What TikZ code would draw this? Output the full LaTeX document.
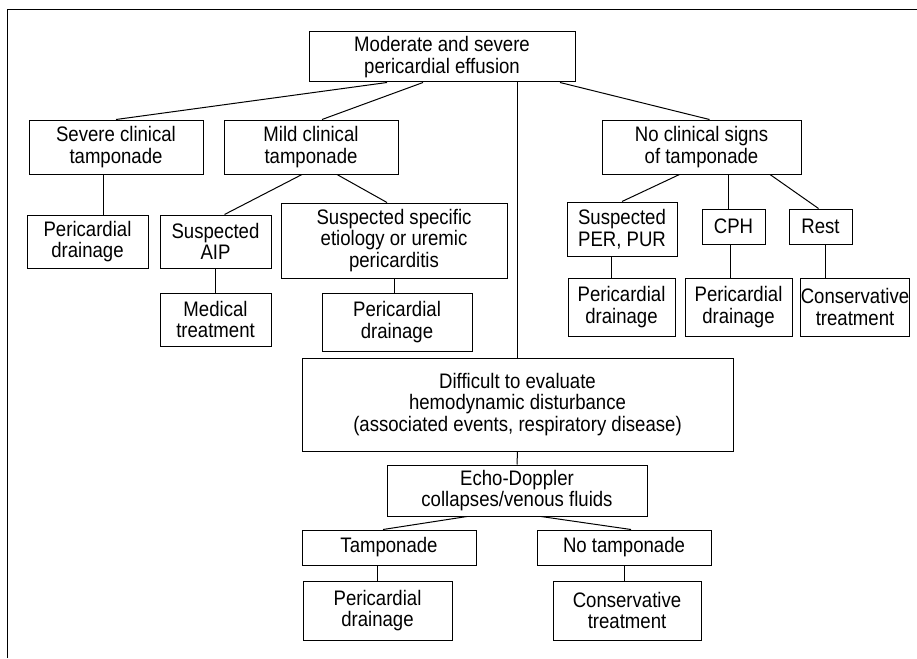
\documentclass[tikz,border=0pt]{standalone}
\usepackage{fontspec}
\setmainfont{Liberation Sans}[FakeStretch=0.885]
\usepackage{tikz}
\usetikzlibrary{calc}
\tikzset{
  box/.style={draw, line width=1pt, inner sep=0pt, align=center,
    font=\fontsize{21}{21.5}\selectfont},
  wh/.style 2 args={minimum width=#1pt, minimum height=#2pt},
  link/.style={line width=1pt}
}

\begin{document}
\begin{tikzpicture}[x=1pt, y=-1pt]
        \useasboundingbox (0,0) rectangle (917,658);
        % frame
        \draw[line width=0.9pt] (7,658) -- (7,9.5) -- (917,9.5);
        % level 1
        \node[box, wh={266}{50}] (effusion) at (442,57) {Moderate and severe\\pericardial effusion};
        % level 2
        \node[box, wh={174}{54}] (severe) at (116,147) {Severe clinical\\tamponade};
        \node[box, wh={174}{54}] (mild) at (311,147) {Mild clinical\\tamponade};
        \node[box, wh={199}{54}] (nosigns) at (701.5,147) {No clinical signs\\of tamponade};
        % level 3
        \node[box, wh={121}{53}] (drainA) at (87.5,241.5) {Pericardial\\drainage};
        \node[box, wh={111}{53}] (aip) at (215.5,241.5) {Suspected\\AIP};
        \node[box, wh={226}{75}] (specific) at (394,240.5) {Suspected specific\\etiology or uremic\\pericarditis};
        \node[box, wh={110}{54}] (perpur) at (622,229) {Suspected\\PER, PUR};
        \node[box, wh={63}{35}] (cph) at (733.5,226.5) {CPH};
        \node[box, wh={63}{35}] (rest) at (820.5,226.5) {Rest};
        % level 4
        \node[box, wh={111}{53}] (medical) at (215.5,319.5) {Medical\\treatment};
        \node[box, wh={150}{58}] (drainB) at (397,322) {Pericardial\\drainage};
        \node[box, wh={107}{58}] (drainC) at (621.5,307) {Pericardial\\drainage};
        \node[box, wh={107}{58}] (drainD) at (738.5,307) {Pericardial\\drainage};
        \node[box, wh={108}{58}] (conservA) at (855,307) {Conservative\\treatment};
        % middle branch
        \node[box, wh={431}{93}] (difficult) at (517.5,404.5) {Difficult to evaluate\\hemodynamic disturbance\\(associated events, respiratory disease)};
        \node[box, wh={260}{51}] (echo) at (517,490.5) {Echo-Doppler\\collapses/venous fluids};
        \node[box, wh={174}{35}] (tamp) at (389,547.5) {Tamponade};
        \node[box, wh={174}{35}] (notamp) at (624,547.5) {No tamponade};
        \node[box, wh={149}{59}] (drainE) at (377.5,610.5) {Pericardial\\drainage};
        \node[box, wh={148}{59}] (conservB) at (627,610.5) {Conservative\\treatment};
        % connectors
        \draw[link] ([xshift=-55pt]effusion.south) -- (severe.north);
        \draw[link] ([xshift=-19pt]effusion.south) -- ([xshift=11pt]mild.north);
        \draw[link] (difficult.north |- effusion.south) -- (difficult.north);
        \draw[link] ([xshift=118pt]effusion.south) -- ([xshift=8pt]nosigns.north);
        \draw[link] ([xshift=-13pt]severe.south) -- ([xshift=-13pt]severe.south |- drainA.north);
        \draw[link] ([xshift=-9pt]mild.south) -- ([xshift=9pt]aip.north);
        \draw[link] ([xshift=26pt]mild.south) -- ([xshift=-7pt]specific.north);
        \draw[link] (aip.south) -- (medical.north);
        \draw[link] (specific.south) -- (specific.south |- drainB.north);
        \draw[link] ([xshift=-22pt]nosigns.south) -- (perpur.north);
        \draw[link] ([xshift=26.5pt]nosigns.south) -- ([xshift=26.5pt]nosigns.south |- cph.north);
        \draw[link] ([xshift=68.5pt]nosigns.south) -- ([xshift=-2pt]rest.north);
        \draw[link] ([xshift=-11pt]perpur.south) -- ([xshift=-11pt]perpur.south |- drainC.north);
        \draw[link] ([xshift=-3pt]cph.south) -- ([xshift=-3pt]cph.south |- drainD.north);
        \draw[link] ([xshift=4.5pt]rest.south) -- ([xshift=4.5pt]rest.south |- conservA.north);
        \draw[link] (difficult.south) -- (echo.north);
        \draw[link] ([xshift=-50pt]echo.south) -- ([xshift=-6pt]tamp.north);
        \draw[link] ([xshift=24pt]echo.south) -- ([xshift=7pt]notamp.north);
        \draw[link] (tamp.south -| drainE.north) -- (drainE.north);
        \draw[link] (notamp.south) -- (notamp.south |- conservB.north);
\end{tikzpicture}
\end{document}
